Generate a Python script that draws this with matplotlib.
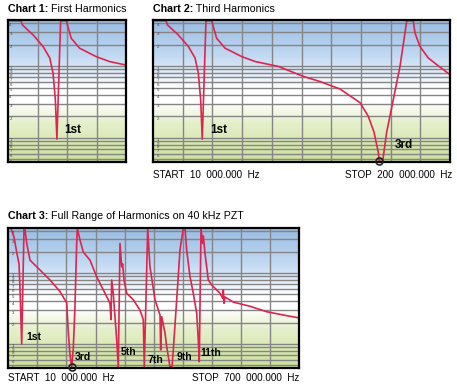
import numpy as np
import matplotlib
matplotlib.use("Agg")
import matplotlib.pyplot as plt
from matplotlib.colors import LinearSegmentedColormap
from matplotlib.transforms import blended_transform_factory

plt.rcParams['font.family'] = ['Liberation Sans', 'DejaVu Sans']

# impedance sweep, 10 kHz .. 200 kHz (charts 1 and 2), relative units on a log scale
freq2_khz = [10, 18.3, 19.3, 26.2, 32.6, 36.9, 39.0, 40.5, 41.5, 43.9, 47.6, 48.6,
             50.7, 56.1, 66.7, 75.3, 90.2, 106.1, 116.8, 129.6, 142.4, 147.7, 151.4,
             154.1, 154.8, 156.9, 159.5, 163.7, 168.0, 171.2, 172.3, 176.5, 177.6,
             180.8, 186.1, 191.5, 200]
imp2 = [43, 43, 37.5, 27.2, 18.8, 13.0, 8.0, 3.4, 0.96, 43, 43, 35.5,
        24.5, 17.8, 13.6, 11.6, 9.9, 7.2, 6.1, 4.8, 3.1, 2.0, 1.2,
        0.63, 0.47, 0.47, 1.2, 3.4, 9.9, 29, 43, 43, 29,
        18.8, 13.0, 10.5, 7.6]

# full sweep, 10 kHz .. 700 kHz (chart 3)
freq3_khz = [16.4, 23.5, 29.9, 35.4, 37.8, 41.8, 47.3, 49.6, 53.7, 61.5, 85.2, 109,
             132.7, 148.6, 152.4, 156.5, 160.5, 164.3, 168.3, 172.4, 173.8, 180.2,
             188.0, 203.9, 219.8, 235.5, 247.4, 251.4, 253.8, 255.4, 259.2, 267.3,
             271.1, 275.1, 279.2, 281.5, 284.6, 291.0, 306.7, 322.6, 330.4, 332.8,
             340.9, 346.3, 358.2, 370.1, 371.7, 374.1, 381.9, 386.0, 393.8, 398.6,
             401.6, 409.7, 417.5, 425.4, 429.4, 433.4, 441.3, 449.1, 457.2, 461.0,
             463.3, 467.4, 471.4, 472.9, 476.9, 484.7, 492.8, 512.5, 518.9, 520.3,
             522.0, 524.4, 544.1, 583.7, 623.3, 662.7, 698.3]
imp3 = [43, 32.5, 19.9, 13.6, 6.0, 1.0, 43, 40.8, 26.7, 15.3, 11.1, 8.0,
        5.5, 3.8, 1.47, 0.69, 0.465, 0.86, 3.5, 27.6, 43, 29.4,
        19.9, 15.3, 8.9, 5.8, 4.2, 3.7, 2.2, 8.0, 5.1, 1.13,
        0.47, 26.4, 12.3, 13.5, 8.0, 5.2, 4.2, 3.0, 2.2, 0.47,
        43, 12.3, 4.2, 2.56, 0.82, 2.42, 1.43, 0.91, 0.47, 0.47,
        0.82, 4.2, 21.3, 43, 43, 21.3, 8.9, 5.2, 2.7, 1.13,
        0.56, 43, 26.4, 33.6, 19.1, 8.0, 6.8, 5.2, 4.4, 5.8,
        3.75, 4.6, 3.9, 3.4, 2.85, 2.56, 2.34]

# harmonic labels: (text, kHz, value)
labels12 = [("1st", 51.8, 1.28)]
labels2 = [("3rd", 170.3, 0.80)]
labels3 = [("1st", 71.5, 1.26), ("3rd", 188, 0.65), ("5th", 295.8, 0.76),
           ("7th", 358.2, 0.59), ("9th", 428.7, 0.65), ("11th", 491.6, 0.75)]

y_lo, y_hi = 0.46, 44
grid_levels = [m * 10.0 ** e for e in (-1, 0, 1) for m in range(1, 10)
               if y_lo < m * 10.0 ** e < y_hi]

red = '#dc2550'
bg = LinearSegmentedColormap.from_list('bg', [
    (0.0, (0.80, 0.88, 0.60)), (0.28, (0.90, 0.94, 0.80)), (0.42, (1, 1, 1)),
    (0.52, (1, 1, 1)), (0.75, (0.76, 0.85, 0.95)), (1.0, (0.60, 0.74, 0.89))])

W, H = 457, 386
fig = plt.figure(figsize=(W / 100, H / 100), dpi=100)


def make_axes(left, top, width, height, x0, x1, ndiv):
    ax = fig.add_axes([left / W, 1 - (top + height) / H, width / W, height / H])
    ax.set_yscale('log')
    ax.set_xlim(x0, x1)
    ax.set_ylim(y_lo, y_hi)
    ax.imshow(np.linspace(0, 1, 256)[:, None], aspect='auto', cmap=bg,
              origin='lower', extent=(0, 1, 0, 1), transform=ax.transAxes, zorder=0)
    step = (x1 - x0) / ndiv
    for k in range(1, ndiv):
        ax.axvline(x0 + k * step, color='#858585', lw=1.0, zorder=1)
    tr = blended_transform_factory(ax.transAxes, ax.transData)
    for v in grid_levels:
        ax.axhline(v, color='#858585', lw=1.0, zorder=1)
        lead = str(int(round(v / 10 ** np.floor(np.log10(v) + 1e-9))))
        ax.text(0.012, v * 0.985, lead, transform=tr, fontsize=3.2,
                color='#444444', va='top', ha='left', zorder=2)
    ax.set_xticks([])
    ax.set_yticks([])
    ax.minorticks_off()
    for s in ax.spines.values():
        s.set_linewidth(1.6)
        s.set_color('black')
        s.set_zorder(5)
    return ax


def title(x, y, bold, rest, size=7.7):
    t = fig.text(x / W, 1 - y / H, bold, fontsize=size, weight='bold', va='bottom')
    fig.add_artist(matplotlib.text.Annotation(rest, xy=(1, 0), xycoords=t, va='bottom',
                                              fontsize=size))


# Chart 1 (zoom on the first resonance)
ax1 = make_axes(8, 20, 118, 142, 10, 10 + 0.4 * 190, 4)
ax1.plot(freq2_khz, imp2, color=red, lw=1.2, zorder=3)
for s, f, v in labels12:
    ax1.text(f, v, s, fontsize=8.5, weight='bold', ha='center', va='center', zorder=4)
title(8, 14.5, 'Chart 1:', ' First Harmonics')

# Chart 2
ax2 = make_axes(153, 20, 297, 142, 10, 200, 10)
ax2.plot(freq2_khz, imp2, color=red, lw=1.2, zorder=3)
i2 = int(np.argmin(imp2))
ax2.plot(freq2_khz[i2], imp2[i2], 'o', ms=5, mfc='none', mec='#222222', mew=1.2,
         clip_on=False, zorder=6)
for s, f, v in labels12 + labels2:
    ax2.text(f, v, s, fontsize=8.5, weight='bold', ha='center', va='center', zorder=4)
title(153, 14.5, 'Chart 2:', ' Third Harmonics')
fig.text(153 / W, 1 - 175 / H, 'START  10  000.000  Hz', fontsize=7.1, va='center')
fig.text(452 / W, 1 - 175 / H, 'STOP  200  000.000  Hz', fontsize=7.1, va='center', ha='right')

# Chart 3
ax3 = make_axes(8.3, 227.7, 290.7, 140, 10, 700, 10)
ax3.plot(freq3_khz, imp3, color=red, lw=1.2, zorder=3)
i3 = int(np.argmin(imp3))
ax3.plot(freq3_khz[i3], imp3[i3], 'o', ms=5, mfc='none', mec='#222222', mew=1.2,
         clip_on=False, zorder=6)
for s, f, v in labels3:
    ax3.text(f, v, s, fontsize=7.5, weight='bold', ha='center', va='center', zorder=4)
title(8, 221, 'Chart 3:', ' Full Range of Harmonics on 40 kHz PZT')
fig.text(8 / W, 1 - 378 / H, 'START  10  000.000  Hz', fontsize=7.1, va='center')
fig.text(299 / W, 1 - 378 / H, 'STOP  700  000.000  Hz', fontsize=7.1, va='center', ha='right')

fig.savefig('out.png', dpi=100)
